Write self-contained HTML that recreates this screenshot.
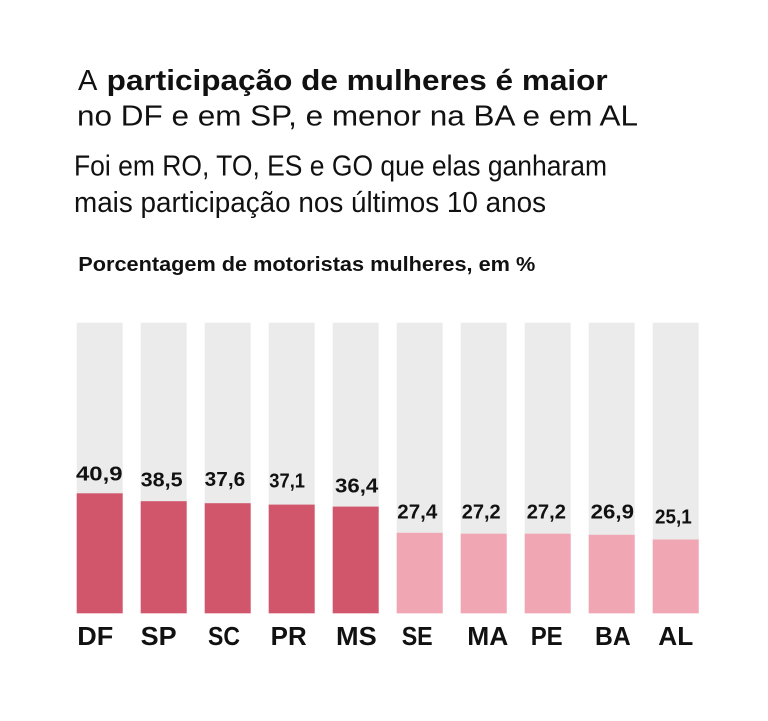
<!DOCTYPE html>
<html>
<head>
<meta charset="utf-8">
<style>
  html, body { margin: 0; padding: 0; background: #ffffff; }
  body { width: 768px; height: 721px; overflow: hidden; }
  svg { display: block; }
  text { font-family: "Liberation Sans", "DejaVu Sans", sans-serif; fill: #111111; }
</style>
</head>
<body>
<svg width="768" height="721" viewBox="0 0 768 721" xmlns="http://www.w3.org/2000/svg">
  <rect x="0" y="0" width="768" height="721" fill="#ffffff"/>

  <!-- Title -->
  <text x="78" y="90" font-size="29">A</text>
  <text x="106.7" y="90" font-size="29" font-weight="bold" textLength="501" lengthAdjust="spacingAndGlyphs">participação de mulheres é maior</text>
  <text x="77" y="125.7" font-size="29" textLength="561" lengthAdjust="spacingAndGlyphs">no DF e em SP, e menor na BA e em AL</text>

  <!-- Subtitle -->
  <text x="74" y="175.7" font-size="28.5" fill="#1a1a1a" textLength="533" lengthAdjust="spacingAndGlyphs">Foi em RO, TO, ES e GO que elas ganharam</text>
  <text x="74" y="212" font-size="28.5" fill="#1a1a1a" textLength="472" lengthAdjust="spacingAndGlyphs">mais participação nos últimos 10 anos</text>

  <!-- Chart header -->
  <text x="78.3" y="271" font-size="20.5" font-weight="bold" textLength="457" lengthAdjust="spacingAndGlyphs">Porcentagem de motoristas mulheres, em %</text>

  <!-- Background bars -->
  <g fill="#ebebeb">
    <rect x="76.7" y="322.7" width="46" height="290.6"/>
    <rect x="140.7" y="322.7" width="46" height="290.6"/>
    <rect x="204.7" y="322.7" width="46" height="290.6"/>
    <rect x="268.7" y="322.7" width="46" height="290.6"/>
    <rect x="332.7" y="322.7" width="46" height="290.6"/>
    <rect x="396.7" y="322.7" width="46" height="290.6"/>
    <rect x="460.7" y="322.7" width="46" height="290.6"/>
    <rect x="524.7" y="322.7" width="46" height="290.6"/>
    <rect x="588.7" y="322.7" width="46" height="290.6"/>
    <rect x="652.7" y="322.7" width="46" height="290.6"/>
  </g>

  <!-- Value bars -->
  <g fill="#d1566c">
    <rect x="76.7" y="493.3" width="46" height="120"/>
    <rect x="140.7" y="501.2" width="46" height="112.1"/>
    <rect x="204.7" y="503.2" width="46" height="110.1"/>
    <rect x="268.7" y="504.6" width="46" height="108.7"/>
    <rect x="332.7" y="506.6" width="46" height="106.7"/>
  </g>
  <g fill="#f1a7b3">
    <rect x="396.7" y="532.8" width="46" height="80.5"/>
    <rect x="460.7" y="533.7" width="46" height="79.6"/>
    <rect x="524.7" y="533.7" width="46" height="79.6"/>
    <rect x="588.7" y="534.8" width="46" height="78.5"/>
    <rect x="652.7" y="539.5" width="46" height="73.8"/>
  </g>

  <!-- Value labels -->
  <g font-size="20.5" font-weight="bold">
    <text x="76" y="480.7" textLength="46.5" lengthAdjust="spacingAndGlyphs">40,9</text>
    <text x="140.7" y="486.7" textLength="42" lengthAdjust="spacingAndGlyphs">38,5</text>
    <text x="204.7" y="486" textLength="40.5" lengthAdjust="spacingAndGlyphs">37,6</text>
    <text x="269.3" y="487.3" textLength="35.7" lengthAdjust="spacingAndGlyphs">37,1</text>
    <text x="335" y="492.7" textLength="43.3" lengthAdjust="spacingAndGlyphs">36,4</text>
    <text x="397.3" y="518.3" textLength="40" lengthAdjust="spacingAndGlyphs">27,4</text>
    <text x="461.7" y="518.3" textLength="39" lengthAdjust="spacingAndGlyphs">27,2</text>
    <text x="526.7" y="518.3" textLength="39.3" lengthAdjust="spacingAndGlyphs">27,2</text>
    <text x="590.7" y="518.3" textLength="43.3" lengthAdjust="spacingAndGlyphs">26,9</text>
    <text x="655" y="523.3" textLength="36.7" lengthAdjust="spacingAndGlyphs">25,1</text>
  </g>

  <!-- Category labels -->
  <g font-size="25.5" font-weight="bold">
    <text x="77.3" y="645" textLength="36" lengthAdjust="spacingAndGlyphs">DF</text>
    <text x="140.7" y="645" textLength="36" lengthAdjust="spacingAndGlyphs">SP</text>
    <text x="208" y="645" textLength="32" lengthAdjust="spacingAndGlyphs">SC</text>
    <text x="270.7" y="645" textLength="36" lengthAdjust="spacingAndGlyphs">PR</text>
    <text x="336" y="645" textLength="40.7" lengthAdjust="spacingAndGlyphs">MS</text>
    <text x="401.7" y="645" textLength="31" lengthAdjust="spacingAndGlyphs">SE</text>
    <text x="467.3" y="645" textLength="41" lengthAdjust="spacingAndGlyphs">MA</text>
    <text x="530.7" y="645" textLength="32" lengthAdjust="spacingAndGlyphs">PE</text>
    <text x="595" y="645" textLength="35.7" lengthAdjust="spacingAndGlyphs">BA</text>
    <text x="658.3" y="645" textLength="35" lengthAdjust="spacingAndGlyphs">AL</text>
  </g>
</svg>
</body>
</html>
